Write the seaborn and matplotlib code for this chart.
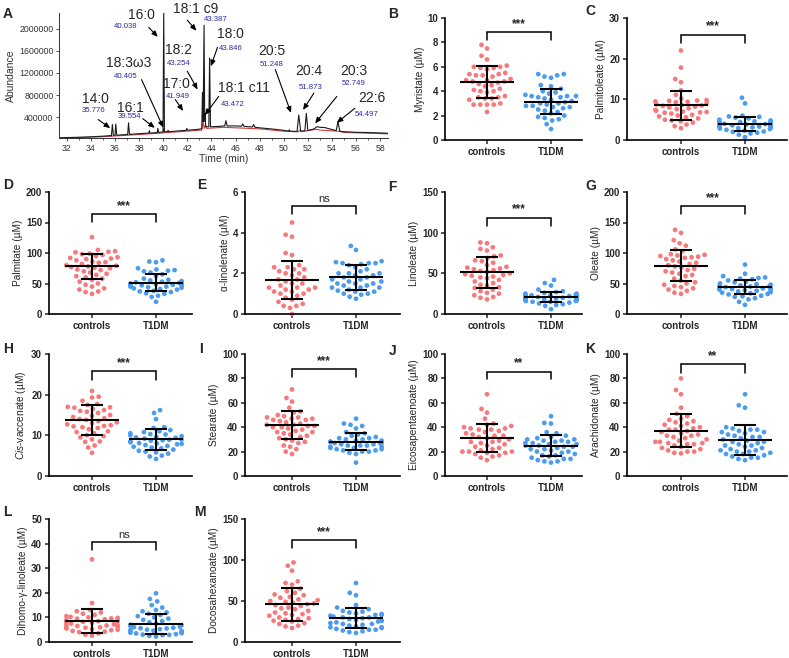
import numpy as np
import pandas as pd
import matplotlib
matplotlib.use('Agg')
import matplotlib.pyplot as plt
import seaborn as sns

sns.set_style('ticks')
plt.rcParams['font.family'] = ['Liberation Sans', 'DejaVu Sans']
plt.rcParams['mathtext.fontset'] = 'custom'
plt.rcParams['mathtext.it'] = 'Liberation Sans:italic'
plt.rcParams['mathtext.rm'] = 'Liberation Sans'

groups = ['controls', 'T1DM']
group_colors = ['#F7797B', '#4B9CF0']

# ---- chromatogram (panel A) ----
chrom_time = [31.4, 32, 33, 34, 35, 35.7, 35.78, 35.86, 36.0, 36.06, 36.14, 37.05, 37.12, 37.2,
              38, 38.8, 38.85, 38.9, 39.5, 39.55, 39.62, 39.98, 40.04, 40.1, 40.35, 40.4, 40.46,
              41, 41.9, 41.95, 42.0, 42.8, 43.2, 43.254, 43.31, 43.387, 43.44, 43.472, 43.52,
              43.78, 43.846, 43.92, 44.5, 45.1, 45.2, 45.3, 46, 46.5, 46.6, 46.7, 47.4, 47.5, 47.6,
              48, 49, 50, 50.4, 50.45, 50.5, 51.1, 51.248, 51.4, 51.75, 51.873, 52.0, 52.5, 52.75,
              53.0, 53.4, 54.0, 54.35, 54.497, 54.65, 55, 56, 57, 58, 59]
chrom_abund = [30000, 35000, 40000, 48000, 60000, 70000, 270000, 75000, 75000, 280000, 78000,
               90000, 300000, 92000, 105000, 115000, 160000, 115000, 125000, 200000, 127000,
               135000, 2290000, 140000, 140000, 165000, 140000, 150000, 165000, 200000, 168000,
               180000, 195000, 850000, 320000, 2060000, 330000, 460000, 230000, 230000, 1470000,
               230000, 235000, 245000, 340000, 245000, 245000, 240000, 280000, 238000, 225000,
               270000, 222000, 210000, 190000, 165000, 150000, 175000, 150000, 145000, 440000,
               150000, 155000, 470000, 160000, 190000, 230000, 220000, 215000, 180000, 160000,
               320000, 150000, 140000, 130000, 125000, 118000, 110000]
blank_time = [31.4, 35, 38, 40, 40.04, 40.1, 42, 43.2, 43.3, 43.4, 43.5, 43.6, 45, 48, 50,
              51.2, 51.3, 51.5, 52.7, 53, 54.5, 55, 59]
blank_abund = [25000, 50000, 90000, 118000, 200000, 122000, 150000, 170000, 320000, 200000,
               260000, 200000, 220000, 192000, 150000, 138000, 165000, 142000, 185000, 170000,
               150000, 128000, 100000]

peak_names = ['14:0', '16:1', '18:3ω3', '16:0', '18:1 c9', '18:2', '17:0', '18:0',
              '18:1 c11', '20:5', '20:4', '20:3', '22:6']
peak_rt = ['35.776', '39.554', '40.405', '40.038', '43.387', '43.254', '41.949', '43.846',
           '43.472', '51.248', '51.873', '52.749', '54.497']

# label layout: name position, retention-time position, arrow start, arrow end
peak_layout = [
    ((34.35, 733000), (34.2, 515000), (34.6, 360000), (35.6, 205000)),
    ((37.3, 575000), (37.2, 412000), (38.3, 375000), (39.3, 210000)),
    ((37.1, 1370000), (36.85, 1140000), (38.2, 1080000), (40.0, 215000)),
    ((38.2, 2250000), (36.9, 2030000), (38.8, 2020000), (39.55, 1850000)),
    ((42.65, 2355000), (44.35, 2160000), (42.0, 2150000), (42.75, 1960000)),
    ((41.27, 1606000), (41.3, 1364000), (42.0, 1230000), (42.85, 900000)),
    ((41.13, 1000000), (41.2, 776000), (41.0, 720000), (41.65, 515000)),
    ((45.55, 1909000), (45.6, 1642000), (44.5, 1660000), (43.95, 1320000)),
    ((46.66, 927000), (45.8, 636000), (44.6, 776000), (43.45, 440000)),
    ((49.0, 1594000), (49.0, 1352000), (49.3, 1260000), (50.6, 480000)),
    ((52.06, 1242000), (52.2, 945000), (52.5, 836000), (51.6, 533000)),
    ((55.8, 1242000), (55.8, 1006000), (54.4, 776000), (52.6, 290000)),
    ((57.3, 745000), (56.9, 442000), (55.9, 563000), (54.4, 300000)),
]

# ---- fatty acid concentrations (µM) ----
myristate_ctrl = [7.8, 7.5, 6.9, 6.6, 6.1, 6.0, 6.0, 5.9, 5.9, 5.8, 5.5, 5.4, 5.4, 5.3, 5.3, 5.2,
                  5.0, 4.9, 4.9, 4.8, 4.8, 4.7, 4.6, 4.5, 4.4, 4.2, 4.1, 4.0, 4.0, 3.9, 3.6, 3.5,
                  3.5, 3.4, 3.4, 3.3, 3.0, 2.9, 2.9, 2.9, 2.9, 2.3]
myristate_t1dm = [5.4, 5.4, 5.3, 5.2, 5.1, 4.5, 4.4, 4.2, 4.0, 3.9, 3.8, 3.7, 3.6, 3.6, 3.6, 3.5,
                  3.5, 3.4, 3.3, 3.2, 3.1, 3.0, 3.0, 2.9, 2.8, 2.8, 2.7, 2.7, 2.6, 2.5, 2.4, 2.3,
                  2.2, 2.0, 1.9, 1.8, 1.7, 1.6, 1.3, 0.9]
palmitoleate_ctrl = [22.0, 17.8, 15.0, 14.2, 12.2, 11.1, 10.2, 9.8, 9.7, 9.6, 9.5, 9.4, 9.3, 9.0,
                     8.8, 8.6, 8.5, 8.4, 8.2, 8.0, 7.8, 7.6, 7.4, 7.2, 7.0, 6.9, 6.8, 6.7, 6.5,
                     6.2, 6.0, 5.8, 5.6, 5.3, 5.0, 4.8, 4.6, 4.3, 3.8, 3.4, 2.9]
palmitoleate_t1dm = [10.4, 9.0, 6.0, 5.8, 5.7, 5.5, 5.3, 5.0, 4.8, 4.6, 4.5, 4.4, 4.3, 4.2, 4.2,
                     4.1, 4.0, 3.9, 3.9, 3.8, 3.8, 3.7, 3.6, 3.6, 3.5, 3.4, 3.3, 3.2, 3.1, 3.0,
                     2.9, 2.8, 2.7, 2.5, 2.3, 2.1, 2.0, 1.8, 1.6, 1.3, 0.7]
palmitate_ctrl = [126, 105, 103, 102, 101, 99, 98, 97, 95, 93, 92, 91, 90, 88, 86, 85, 84, 82, 80,
                  79, 78, 77, 76, 75, 73, 72, 70, 68, 66, 64, 62, 60, 58, 56, 53, 50, 48, 45, 42,
                  40, 37, 36, 33]
palmitate_t1dm = [88, 86, 85, 75, 73, 72, 71, 70, 68, 65, 62, 58, 56, 55, 54, 53, 52, 51, 50, 50,
                  49, 48, 47, 47, 46, 45, 45, 44, 43, 42, 41, 40, 38, 37, 36, 34, 33, 30, 28, 20]
linolenate_ctrl = [4.5, 3.9, 3.8, 3.0, 2.9, 2.4, 2.3, 2.3, 2.2, 2.2, 2.1, 2.0, 2.0, 1.9, 1.8, 1.7,
                   1.7, 1.6, 1.5, 1.5, 1.4, 1.3, 1.3, 1.3, 1.2, 1.2, 1.1, 1.1, 1.0, 1.0, 0.9, 0.8,
                   0.7, 0.6, 0.5, 0.4, 0.4, 0.3, 0.0]
linolenate_t1dm = [3.35, 3.15, 2.6, 2.55, 2.5, 2.5, 2.5, 2.45, 2.4, 2.3, 2.2, 2.1, 2.0, 2.0, 2.0,
                   1.9, 1.9, 1.8, 1.8, 1.7, 1.7, 1.6, 1.6, 1.5, 1.5, 1.5, 1.4, 1.4, 1.3, 1.3, 1.3,
                   1.2, 1.15, 1.1, 1.1, 1.0, 1.0, 0.95, 0.85, 0.75]
linoleate_ctrl = [88, 87, 82, 80, 78, 72, 71, 69, 66, 65, 63, 60, 58, 57, 56, 55, 54, 53, 52, 50,
                  49, 48, 47, 46, 45, 44, 42, 40, 38, 36, 35, 33, 32, 30, 28, 26, 25, 23, 21, 20, 18]
linoleate_t1dm = [42, 38, 35, 30, 28, 27, 26, 25, 25, 24, 24, 23, 23, 22, 22, 22, 21, 21, 21, 20,
                  20, 20, 19, 19, 19, 18, 18, 17, 17, 17, 16, 16, 15, 15, 14, 13, 12, 11, 10, 6]
oleate_ctrl = [138, 133, 121, 116, 112, 106, 103, 98, 97, 96, 95, 94, 93, 92, 90, 88, 86, 84, 82,
               80, 78, 76, 74, 72, 70, 68, 66, 64, 62, 58, 55, 52, 50, 48, 46, 44, 42, 40, 38, 35, 33]
oleate_t1dm = [81, 66, 62, 60, 59, 58, 57, 55, 53, 52, 50, 49, 48, 47, 46, 45, 45, 44, 43, 43, 42,
               41, 40, 40, 39, 38, 37, 36, 35, 34, 33, 32, 30, 29, 28, 26, 24, 20, 15]
vaccenate_ctrl = [20.9, 19.5, 19.3, 18.5, 17.7, 17.5, 17.0, 16.9, 16.8, 16.5, 16.2, 16.0, 15.8,
                  15.5, 15.0, 14.8, 14.5, 14.2, 14.0, 13.8, 13.5, 13.2, 13.0, 12.7, 12.5, 12.3,
                  12.2, 12.0, 11.8, 11.5, 11.0, 10.8, 10.5, 10.0, 9.8, 9.5, 9.0, 8.5, 8.4, 7.5,
                  7.0, 5.7]
vaccenate_t1dm = [16.2, 15.5, 14.0, 12.0, 11.8, 11.3, 11.0, 10.8, 10.5, 10.3, 10.2, 10.0, 9.8,
                  9.6, 9.5, 9.4, 9.2, 9.0, 8.9, 8.8, 8.7, 8.5, 8.3, 8.1, 8.0, 7.9, 7.8, 7.6, 7.4,
                  7.2, 7.0, 6.8, 6.5, 6.2, 6.0, 5.8, 5.5, 5.0, 4.8, 4.2]
stearate_ctrl = [71, 64, 61, 56, 53, 52, 50, 49, 48, 48, 47, 47, 46, 46, 45, 44, 43, 42, 42, 41,
                 41, 40, 40, 39, 38, 37, 36, 36, 35, 34, 33, 32, 31, 30, 29, 28, 27, 25, 24, 22,
                 20, 18]
stearate_t1dm = [47, 43, 42, 41, 39, 36, 35, 34, 33, 32, 31, 31, 30, 30, 29, 29, 28, 28, 28, 27,
                 27, 27, 26, 26, 25, 25, 25, 24, 24, 23, 23, 22, 22, 21, 21, 20, 20, 19, 18, 11]
epa_ctrl = [67, 55, 52, 47, 43, 42, 41, 40, 39, 39, 38, 38, 37, 36, 35, 34, 33, 33, 32, 31, 30, 29,
            28, 28, 27, 26, 25, 24, 23, 22, 21, 20, 20, 20, 19, 19, 18, 17, 16, 15, 13]
epa_t1dm = [49, 43.5, 43, 36, 35, 33, 32, 31, 30, 30, 29, 29, 28, 28, 27, 27, 26, 26, 25, 25, 24,
            24, 23, 22, 22, 21, 20, 20, 19, 18, 17, 17, 16, 15, 14, 14, 13, 12, 12, 11]
arachidonate_ctrl = [80, 70.5, 67, 56, 51, 49, 47, 46, 45, 44, 43, 42, 41, 40, 39, 38, 38, 37, 36,
                     35, 34, 33, 33, 32, 31, 30, 29, 28, 28, 27, 27, 26, 26, 25, 24, 23, 22, 21,
                     20, 20, 19, 18.5]
arachidonate_t1dm = [67, 58, 56, 40, 39, 38, 38, 37, 36, 36, 35, 34, 33, 32, 32, 31, 30, 29, 28,
                     28, 27, 26, 25, 25, 24, 23, 22, 21, 21, 20, 20, 19, 18, 18, 17, 16, 15, 15,
                     14, 13]
dgla_ctrl = [33.6, 15.8, 13, 12.5, 12, 11.5, 11, 10.5, 10.2, 10, 9.8, 9.6, 9.5, 9.2, 9, 8.8, 8.5,
             8.3, 8.2, 8, 7.8, 7.5, 7.2, 7, 6.8, 6.7, 6.5, 6.2, 6, 5.9, 5.8, 5.5, 5.2, 5, 4.8,
             4.5, 4.2, 4, 3.5, 3, 2.6]
dgla_t1dm = [19.8, 17.5, 16.5, 15, 14, 13, 12.5, 12, 11.5, 11, 10.5, 10, 9.5, 9, 8.5, 8, 7.5, 7,
             6.8, 6.5, 6.2, 6, 5.8, 5.6, 5.5, 5.2, 5, 4.8, 4.6, 4.5, 4.2, 4, 3.8, 3.6, 3.5, 3.2,
             3, 2.9, 2.8, 2.5, 2.2]
dha_ctrl = [97, 93, 87, 74, 72, 70, 65, 62, 60, 58, 57, 55, 54, 52, 51, 50, 49, 48, 47, 46, 45, 44,
            42, 41, 40, 38, 36, 35, 34, 33, 32, 30, 29, 28, 27, 26, 25, 23, 22, 20, 19, 17]
dha_t1dm = [72, 60, 57, 45, 42, 40, 38, 37, 36, 35, 34, 33, 33, 32, 31, 30, 30, 29, 28, 27, 26, 26,
            25, 24, 23, 22, 22, 21, 20, 19, 18, 18, 17, 16, 15, 15, 14, 13, 12, 11]

# mean and SD [controls, T1DM]
myristate_mean, myristate_sd = [4.77, 3.15], [1.29, 1.04]
palmitoleate_mean, palmitoleate_sd = [8.5, 3.94], [3.55, 1.7]
palmitate_mean, palmitate_sd = [78, 51.2], [20, 14.2]
linolenate_mean, linolenate_sd = [1.67, 1.8], [0.94, 0.61]
linoleate_mean, linoleate_sd = [51.1, 20.8], [19, 6.5]
oleate_mean, oleate_sd = [79, 44.1], [25.3, 12]
vaccenate_mean, vaccenate_sd = [13.7, 9.0], [3.7, 2.5]
stearate_mean, stearate_sd = [41.8, 28.1], [11.4, 7]
epa_mean, epa_sd = [31.4, 24.6], [11.6, 8.6]
arachidonate_mean, arachidonate_sd = [37.2, 29.5], [13.8, 11.9]
dgla_mean, dgla_sd = [8.56, 7.3], [4.8, 4.15]
dha_mean, dha_sd = [46, 29], [19.8, 12.5]

# letter, ylabel, ctrl, t1dm, mean, sd, ymax, ystep, significance, bracket (drop, top), grid cell
panels = [
    ('B', 'Myristate (µM)', myristate_ctrl, myristate_t1dm, myristate_mean, myristate_sd,
     10, 2, '***', (8.2, 8.85), (0, 2)),
    ('C', 'Palmitoleate (µM)', palmitoleate_ctrl, palmitoleate_t1dm, palmitoleate_mean,
     palmitoleate_sd, 30, 10, '***', (23.8, 25.9), (0, 3)),
    ('D', 'Palmitate (µM)', palmitate_ctrl, palmitate_t1dm, palmitate_mean, palmitate_sd,
     200, 50, '***', (151, 163.5), (1, 0)),
    ('E', 'α-linolenate (µM)', linolenate_ctrl, linolenate_t1dm, linolenate_mean,
     linolenate_sd, 6, 2, 'ns', (4.94, 5.3), (1, 1)),
    ('F', 'Linoleate (µM)', linoleate_ctrl, linoleate_t1dm, linoleate_mean, linoleate_sd,
     150, 50, '***', (108, 118.5), (1, 2)),
    ('G', 'Oleate (µM)', oleate_ctrl, oleate_t1dm, oleate_mean, oleate_sd,
     200, 50, '***', (163.5, 176.5), (1, 3)),
    ('H', r'$\mathit{Cis}$-vaccenate (µM)', vaccenate_ctrl, vaccenate_t1dm, vaccenate_mean,
     vaccenate_sd, 30, 10, '***', (23.6, 25.7), (2, 0)),
    ('I', 'Stearate (µM)', stearate_ctrl, stearate_t1dm, stearate_mean, stearate_sd,
     100, 20, '***', (80.9, 87.4), (2, 1)),
    ('J', 'Eicosapentaenoate (µM)', epa_ctrl, epa_t1dm, epa_mean, epa_sd,
     100, 20, '**', (79.2, 85.5), (2, 2)),
    ('K', 'Arachidonate (µM)', arachidonate_ctrl, arachidonate_t1dm, arachidonate_mean,
     arachidonate_sd, 100, 20, '**', (84.7, 91.8), (2, 3)),
    ('L', 'Dihomo-γ-linoleate (µM)', dgla_ctrl, dgla_t1dm, dgla_mean, dgla_sd,
     50, 10, 'ns', (37.6, 40.8), (3, 0)),
    ('M', 'Docosahexanoate (µM)', dha_ctrl, dha_t1dm, dha_mean, dha_sd,
     150, 50, '***', (115, 124.3), (3, 1)),
]

# layout in pixels of the 789x658 figure
W, H = 789, 658
col_px = [(49, 92, 192), (245, 292, 400), (445, 487, 582), (627, 681, 787)]
row_px = [(18, 140), (192, 314), (354, 476), (519, 642)]
letter_px = {'A': (3, 14), 'B': (388, 14), 'C': (585, 11), 'D': (3, 185), 'E': (197, 185),
             'F': (388, 187), 'G': (585, 186), 'H': (3, 349), 'I': (199, 349),
             'J': (389, 351), 'K': (585, 349), 'L': (3, 512), 'M': (194, 512)}
PX_PER_UNIT = 64.0
SWARM_LAYOUT_SIZE = 4.6   # spacing used to lay out the swarm
SWARM_DOT_SIZE = 3.4      # drawn dot diameter (pt)


def px_rect(l, t, r, b):
    return [l / W, 1 - b / H, (r - l) / W, (b - t) / H]


fig = plt.figure(figsize=(W / 100, H / 100), dpi=100)

# Panel A: chromatogram
axA = fig.add_axes(px_rect(59, 13, 388, 138))
sns.lineplot(x=blank_time, y=blank_abund, ax=axA, color='#d23c3c', lw=0.8,
             estimator=None, sort=False)
sns.lineplot(x=chrom_time, y=chrom_abund, ax=axA, color='#1a1a1a', lw=0.8,
             estimator=None, sort=False)
axA.set_xlim(31.35, 58.65)
axA.set_ylim(27000, 2280000)
axA.set_xticks(np.arange(32, 59, 2))
axA.set_xticks(np.arange(33, 59, 2), minor=True)
axA.set_yticks(np.arange(400000, 2000001, 400000))
axA.ticklabel_format(axis='y', style='plain', useOffset=False)
axA.tick_params(axis='both', labelsize=6.3, colors='#333333', length=2.5, width=0.6, pad=1.5)
axA.tick_params(axis='x', which='minor', length=1.5, width=0.5)
axA.set_xlabel('Time (min)', fontsize=7.5, color='#333333', labelpad=1)
axA.set_ylabel('Abundance', fontsize=7.5, color='#333333', labelpad=2)
sns.despine(ax=axA)
for sp in ['left', 'bottom']:
    axA.spines[sp].set_linewidth(0.7)
    axA.spines[sp].set_color('#333333')
for name, rt, lay in zip(peak_names, peak_rt, peak_layout):
    (nx, ny), (rx, ry), (ax0, ay0), (ax1, ay1) = lay
    axA.text(nx, ny, name, fontsize=10, ha='center', va='center', clip_on=False)
    axA.text(rx, ry, rt, fontsize=5.6, color='#2a2aa8', ha='center', va='center')
    axA.annotate('', xy=(ax1, ay1), xytext=(ax0, ay0),
                 arrowprops=dict(arrowstyle='-|>,head_length=0.35,head_width=0.15',
                                 color='black', lw=0.8, shrinkA=0, shrinkB=0))

# Panels B-M: scatter dot plots with mean +/- SD
dot_axes = []
for (letter, ylabel, ctrl, t1dm, mean, sd, ymax, ystep, sig, bracket, cell) in panels:
    r, c = cell
    left, cpx, right = col_px[c]
    top, bottom = row_px[r]
    ax = fig.add_axes(px_rect(left, top, right, bottom))
    df = pd.DataFrame({'group': ['controls'] * len(ctrl) + ['T1DM'] * len(t1dm),
                       'value': list(ctrl) + list(t1dm)})
    sns.swarmplot(data=df, x='group', y='value', hue='group', order=groups,
                  hue_order=groups, palette=group_colors, size=SWARM_LAYOUT_SIZE, linewidth=0,
                  ax=ax, legend=False, zorder=2, clip_on=False)
    dot_axes.append(ax)
    for i in range(2):
        m, s = mean[i], sd[i]
        ax.hlines(m, i - 0.42, i + 0.42, color='black', lw=1.5, zorder=5)
        ax.vlines(i, m - s, m + s, color='black', lw=1.5, zorder=5)
        ax.hlines([m - s, m + s], i - 0.17, i + 0.17, color='black', lw=1.5, zorder=5)
    drop, btop = bracket
    ax.plot([0, 0, 1, 1], [drop, btop, btop, drop], color='black', lw=1.1,
            solid_joinstyle='miter', clip_on=False)
    ax.annotate(sig, xy=(0.5, btop), xytext=(0, 1.5), textcoords='offset points',
                ha='center', va='bottom', fontsize=8.5 if sig != 'ns' else 8,
                fontweight='bold' if sig != 'ns' else 'normal')
    ax.set_xlim(-(cpx - left) / PX_PER_UNIT, (right - cpx) / PX_PER_UNIT)
    ax.set_ylim(0, ymax)
    ax.set_yticks(np.arange(0, ymax + ystep / 2, ystep))
    ax.set_xlabel('')
    ax.set_ylabel(ylabel, fontsize=7.3, labelpad=2)
    ax.tick_params(axis='both', labelsize=7, length=3, width=1.1, pad=2)
    for lab in ax.get_xticklabels() + ax.get_yticklabels():
        lab.set_fontweight('bold')
    sns.despine(ax=ax)
    for sp in ['left', 'bottom']:
        ax.spines[sp].set_linewidth(1.2)
        ax.spines[sp].set_color('black')

for letter, (x, y) in letter_px.items():
    fig.text(x / W, 1 - y / H, letter, fontsize=10, fontweight='bold', ha='left', va='center')

# lay the swarms out with roomy spacing, then freeze them and draw smaller dots
fig.canvas.draw()
for ax in dot_axes:
    for coll in ax.collections:
        if 'draw' in coll.__dict__:
            del coll.__dict__['draw']
            coll.set_sizes([SWARM_DOT_SIZE ** 2])

fig.savefig('out.png', dpi=100)
